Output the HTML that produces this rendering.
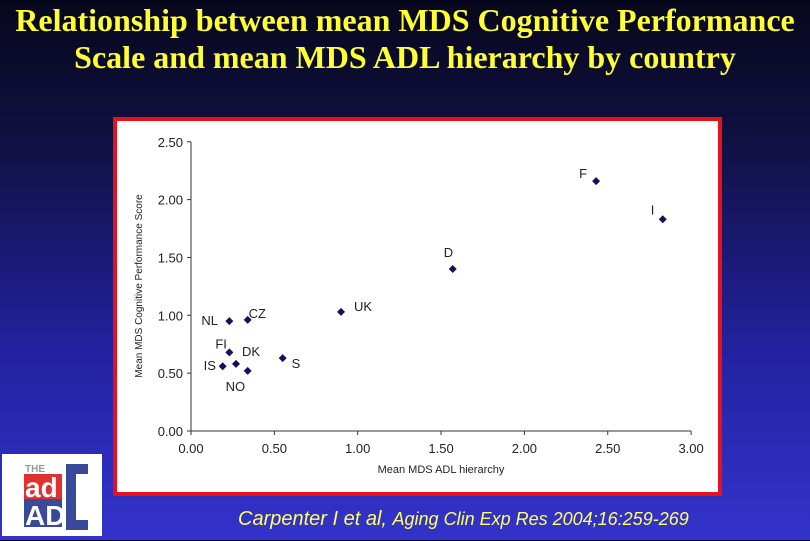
<!DOCTYPE html>
<html><head><meta charset="utf-8"><style>
html,body{margin:0;padding:0}
body{width:810px;height:540px;overflow:hidden;background:linear-gradient(#07071c 0%,#101040 25%,#2222a0 65%,#3333cc 100%);position:relative;font-family:"Liberation Sans",sans-serif}
#title{position:absolute;left:0;top:2px;width:810px;text-align:center;color:#ffff33;font:bold 32px/37px "Liberation Serif",serif;margin:0;white-space:nowrap}
#cite{position:absolute;left:238px;top:508px;color:#ffff66;font:italic 20px "Liberation Sans",sans-serif;white-space:nowrap}
#logo{position:absolute;left:2px;top:454px;width:100px;height:82px;background:#fff}
</style></head><body>
<h1 id="title">Relationship between mean MDS Cognitive Performance<br>Scale and mean MDS ADL hierarchy by country</h1>
<div id="logo">
<svg width="100" height="82">
<text x="23" y="18" font-family="Liberation Sans" font-weight="bold" font-size="10" fill="#999">THE</text>
<rect x="22" y="20" width="38" height="25" fill="#e03030"/>
<rect x="22" y="45" width="38" height="28" fill="#3a4a9a"/>
<text x="23" y="43" font-family="Liberation Sans" font-weight="bold" font-size="28" fill="#fff">ad</text>
<text x="23" y="71" font-family="Liberation Sans" font-weight="bold" font-size="28" fill="#fff">AD</text>
<path d="M86 10 H64 V76 H86 V66 H74 V20 H86 Z" fill="#3a4a9a"/>
</svg></div>
<svg id="chart" width="810" height="540" style="position:absolute;left:0;top:0">
<rect x="115" y="119" width="605" height="375" fill="#fff" stroke="#e8101a" stroke-width="4"/>
<g id="axes"></g><g id="marks"></g>
<text x="441" y="473" font-size="11" fill="#222" text-anchor="middle">Mean MDS ADL hierarchy</text>
<text transform="translate(142,286) rotate(-90)" font-size="10" fill="#222" text-anchor="middle">Mean MDS Cognitive Performance Score</text>
</svg>
<div id="cite">Carpenter I et al, <span style="font-size:18px">Aging Clin Exp Res 2004;16:259-269</span></div>
<script>
const countries=["NL","CZ","FI","DK","IS","NO","S","UK","D","F","I"];
const adl=[0.23,0.34,0.23,0.27,0.19,0.34,0.55,0.90,1.57,2.43,2.83];
const cps=[0.95,0.96,0.68,0.58,0.56,0.52,0.63,1.03,1.40,2.16,1.83];
const xTicks=[0,0.5,1,1.5,2,2.5,3];
const yTicks=[0,0.5,1,1.5,2,2.5];
const labelDx=[-28,1,-14,6,-19,-22,9,13,-9,-17,-12];
const labelDy=[4,-2,-4,-8,4,20,10,-1,-12,-3,-5];
const NS="http://www.w3.org/2000/svg";
const X=v=>191+v*166.7, Y=v=>431-v*115.7;
function mk(t,a,p){const e=document.createElementNS(NS,t);for(const k in a)e.setAttribute(k,a[k]);p.appendChild(e);return e;}
const ax=document.getElementById('axes'), mg=document.getElementById('marks');
const xl=mk('line',{x1:X(0),y1:Y(0),x2:X(3),y2:Y(0),stroke:'#333'},ax);


const yl=mk('line',{x1:X(0),y1:Y(0),x2:X(0),y2:Y(2.5),stroke:'#333'},ax);


xTicks.forEach(v=>{mk('line',{x1:X(v),y1:Y(0),x2:X(v),y2:Y(0)+4,stroke:'#333'},ax);
const t=mk('text',{x:X(v),y:453,'font-size':13,fill:'#222','text-anchor':'middle'},ax);t.textContent=v.toFixed(2);

});
yTicks.forEach(v=>{mk('line',{x1:X(0)-4,y1:Y(v),x2:X(0),y2:Y(v),stroke:'#333'},ax);
const t=mk('text',{x:X(0)-8,y:Y(v)+5,'font-size':13,fill:'#222','text-anchor':'end'},ax);t.textContent=v.toFixed(2);

});
countries.forEach((c,i)=>{const x=X(adl[i]),y=Y(cps[i]);
const p=mk('path',{d:`M${x} ${y-4}L${x+4} ${y}L${x} ${y+4}L${x-4} ${y}Z`,fill:'#12125a'},mg);


const t=mk('text',{x:x+labelDx[i],y:y+labelDy[i],'font-size':13,fill:'#222'},mg);t.textContent=c;

});
</script>
</body></html>
